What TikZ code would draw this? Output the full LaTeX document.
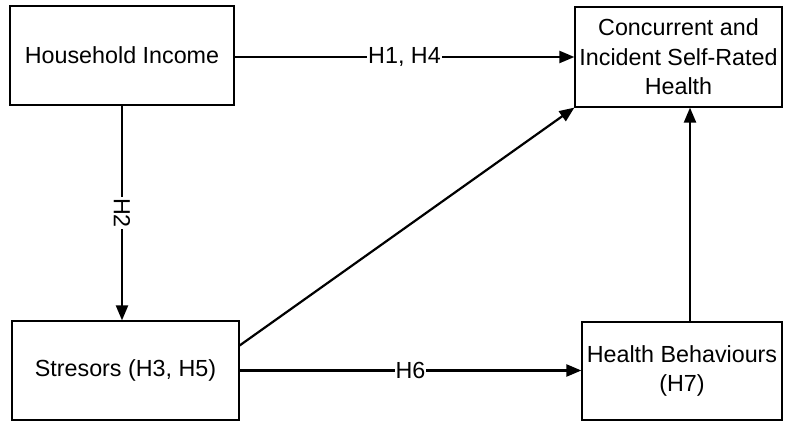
\documentclass[tikz,border=0pt]{standalone}
\usepackage{fontspec}
\setmainfont{Liberation Sans}
\usetikzlibrary{arrows.meta,calc}
\begin{document}
\begin{tikzpicture}[x=1pt,y=-1pt,
  box/.style={draw=black,line width=1.2pt,align=center,inner sep=0pt,
    font=\fontsize{23.3}{29.5}\selectfont},
  arr/.style={draw=black,line width=2.2pt,-{Triangle[length=15pt,width=12pt]}},
  lab/.style={fill=white,inner sep=1pt,font=\fontsize{23.3}{29}\selectfont}]
\useasboundingbox (0,0) rectangle (787,422);
\node[box,minimum width=224pt,minimum height=99pt] (HI) at (122,55.5) {Household Income};
\node[box,minimum width=207pt,minimum height=100pt] (CSR) at (678.5,57) {Concurrent and\\Incident Self-Rated\\Health};
\node[box,minimum width=227pt,minimum height=99pt] (ST) at (125.5,370.5) {Stresors (H3, H5)};
\node[box,minimum width=200pt,minimum height=98pt] (HB) at (682,371) {Health Behaviours\\(H7)};
\draw[arr] ([yshift=-1.5pt]HI.east) -- ([yshift=-1.5pt]HI.east -| CSR.west) node[lab,midway] {H1, H4};
\draw[arr] (HI.south) -- (HI.south |- ST.north) node[lab,midway,rotate=-90] {H2};
\draw[arr] ([yshift=25pt]ST.east) -- (CSR.south west);
\draw[arr] (ST.east) -- (ST.east -| HB.west) node[lab,midway] {H6};
\draw[arr] ([xshift=8pt]HB.north) -- ([xshift=8pt]HB.north |- CSR.south);
\end{tikzpicture}
\end{document}
